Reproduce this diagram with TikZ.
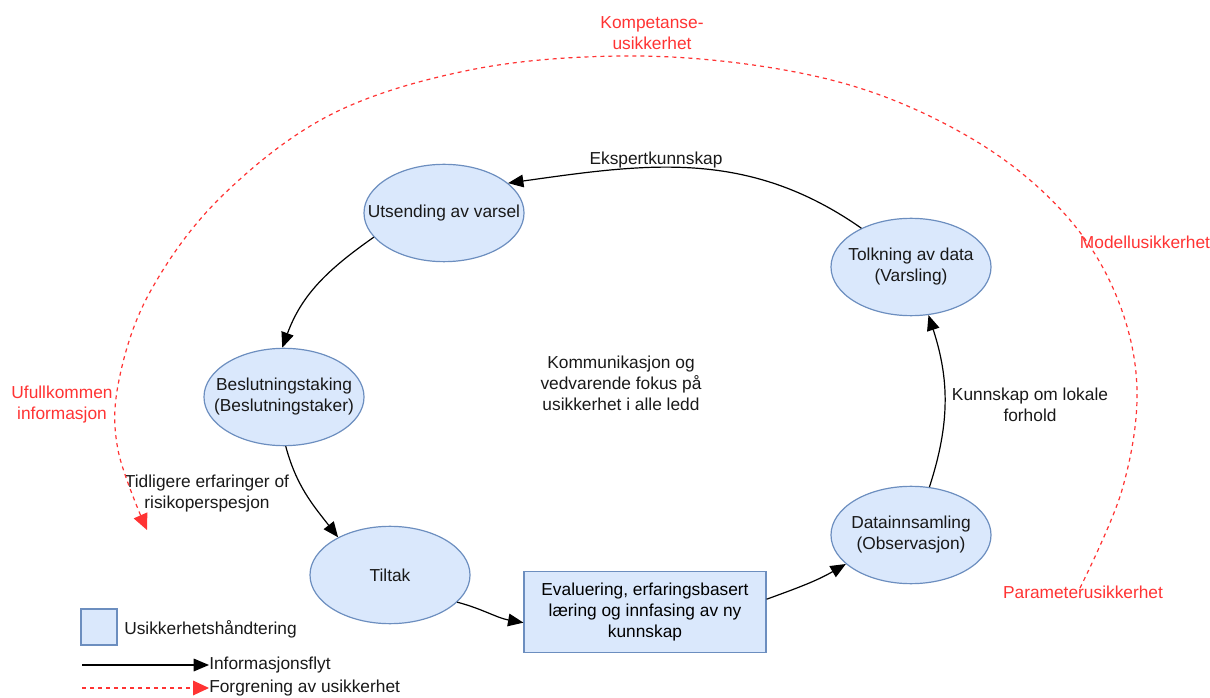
\documentclass[tikz,border=0pt]{standalone}
\usepackage{fontspec}
\setmainfont{Liberation Sans}
\usetikzlibrary{shapes.geometric,arrows.meta}
\definecolor{boxfill}{HTML}{DAE8FC}
\definecolor{boxline}{HTML}{6C8EBF}
\definecolor{unc}{HTML}{FF3333}
\tikzset{
  lbl/.style={font=\fontsize{13}{15.75}\selectfont, align=center, inner sep=0pt, text=black!90},
  rlbl/.style={lbl, text=unc},
  ell/.style={ellipse, draw=boxline, fill=boxfill, line width=0.9pt, minimum width=120pt, minimum height=73pt, inner sep=0pt},
  flow/.style={draw=black, line width=0.9pt, -{Triangle[length=11.5pt,width=9.5pt]}},
  redflow/.style={draw=unc, line width=0.9pt, dash pattern=on 3pt off 3pt, -{Triangle[length=12pt,width=11pt]}},
}
\begin{document}
\begin{tikzpicture}[x=0.75pt,y=-0.75pt]
\useasboundingbox (0,0) rectangle (1210,698);

% nodes
\node[ell, label={[lbl]center:Utsending av varsel}] (uts) at (444,213) {};
\node[ell, label={[lbl]center:{Tolkning av data\\(Varsling)}}] (tol) at (911,267) {};
\node[ell, label={[lbl]center:{Beslutningstaking\\(Beslutningstaker)}}] (bes) at (284,397) {};
\node[ell, label={[lbl]center:Tiltak}] (til) at (390,575) {};
\node[ell, label={[lbl]center:{Datainnsamling\\(Observasjon)}}] (dat) at (911,535) {};
\node[draw=boxline, fill=boxfill, line width=0.9pt, minimum width=181.5pt, minimum height=60.75pt, inner sep=0pt, font=\fontsize{13}{15.75}\selectfont, align=center] (eva) at (645,612) {Evaluering, erfaringsbasert\\læring og innfasing av ny\\kunnskap};

\node[lbl] (center) at (621,383) {Kommunikasjon og\\vedvarende fokus på\\usikkerhet i alle ledd};

% connectors
\draw[flow] (tol.142) to[out=145,in=8] (uts.25);
\node[lbl] (ek) at (656,160) {Ekspertkunnskap};
\draw[flow] (uts.199) to[out=215,in=70] (bes.92);
\draw[flow] (bes.-88) to[out=-75,in=128] (til.144);
\draw[flow] (til.-22) to[out=-15,in=170] (eva.185);
\draw[flow] (eva.6) to[out=20,in=210] (dat.204);
\draw[flow] (dat.69) to[out=72,in=-72] (tol.-70);

\node[lbl] (tid) at (207,494) {Tidligere erfaringer of\\risikoperspesjon};
\node[lbl] (kun) at (1030,405) {Kunnskap om lokale\\forhold};

% uncertainty arc
\draw[redflow] plot[smooth, tension=0.6] coordinates {(1080,588) (1122,490) (1137,390) (1118,300) (1070,220) (990,150) (880,95) (760,66) (620,56) (470,70) (330,115) (220,198) (150,292) (119,380) (118,450) (147,530)};
\node[rlbl] (komp) at (652,33) {Kompetanse-\\usikkerhet};
\node[rlbl] (mod) at (1145,242) {Modellusikkerhet};
\node[rlbl] (uf) at (62,405) {Ufullkommen\\informasjon};
\node[rlbl] (par) at (1083,592) {Parameterusikkerhet};

% legend
\node[draw=boxline, fill=boxfill, line width=0.9pt, minimum width=27pt, minimum height=27pt, inner sep=0pt] (legbox) at (99,627) {};
\node[lbl, anchor=west] (legt1) at (124,629) {Usikkerhetshåndtering};
\coordinate (la1) at (82,665);
\node[lbl, anchor=west] (legt2) at (209,665) {Informasjonsflyt};
\draw[flow] (la1) -- (legt2.west);
\coordinate (la2) at (82,688);
\node[lbl, anchor=west] (legt3) at (209,688) {Forgrening av usikkerhet};
\draw[redflow] (la2) -- (legt3.west);
\end{tikzpicture}
\end{document}
